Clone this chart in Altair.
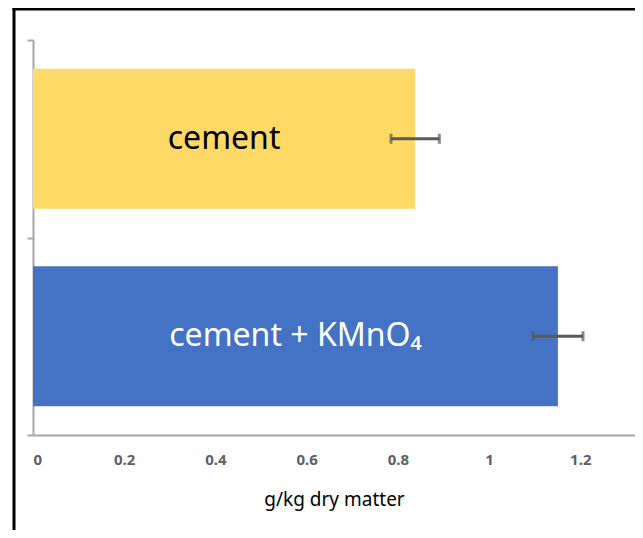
import altair as alt
import pandas as pd

categories = ["cement", "cement + KMnO₄"]
values = [0.838, 1.151]
errors = [0.053, 0.055]
bar_colors = ["#FFD966", "#4472C4"]
text_colors = ["#000000", "#FFFFFF"]
tick_values = [0, 0.2, 0.4, 0.6, 0.8, 1, 1.2]

df = pd.DataFrame({
    "cat": categories,
    "val": values,
    "err": errors,
    "barc": bar_colors,
    "txtc": text_colors,
})

base = alt.Chart(df).transform_calculate(
    lo="datum.val - datum.err",
    hi="datum.val + datum.err",
    mid="datum.val / 2",
)

yenc = alt.Y(
    "cat:N",
    sort=categories,
    scale=alt.Scale(paddingInner=0, paddingOuter=0),
    axis=alt.Axis(
        title=None, labels=False, tickBand="extent", domainColor="#A6A6A6",
        domainWidth=2, tickColor="#A6A6A6", tickWidth=2, tickSize=6, grid=False,
    ),
)
xscale = alt.Scale(domain=[0, 1.32], nice=False, zero=True)

bars = base.mark_bar(height={"band": 0.71}).encode(
    x=alt.X(
        "val:Q",
        scale=xscale,
        axis=alt.Axis(
            values=tick_values, format="~g", ticks=False, grid=False,
            domainColor="#A6A6A6", domainWidth=2,
            labelFont="Noto Sans", labelFontSize=15, labelFontWeight="bold",
            labelColor="#606060", labelPadding=17,
            title="g/kg dry matter", titleFont="Noto Sans", titleFontSize=19,
            titleFontWeight="normal", titleColor="#000000", titlePadding=23,
        ),
    ),
    y=yenc,
    color=alt.Color("barc:N", scale=None),
)

rules = base.mark_rule(color="#595959", strokeWidth=3).encode(
    x="lo:Q", x2="hi:Q", y=alt.Y("cat:N", sort=categories)
)
caps_lo = base.mark_tick(color="#595959", thickness=3, size=10, orient="vertical").encode(
    x="lo:Q", y=alt.Y("cat:N", sort=categories)
)
caps_hi = base.mark_tick(color="#595959", thickness=3, size=10, orient="vertical").encode(
    x="hi:Q", y=alt.Y("cat:N", sort=categories)
)

labels = base.mark_text(font="Noto Sans", fontSize=32, align="center", baseline="middle").encode(
    x="mid:Q",
    y=alt.Y("cat:N", sort=categories),
    text="cat:N",
    color=alt.Color("txtc:N", scale=None),
)

frame_df = pd.DataFrame({"f": [0]})
frame_left = alt.Chart(frame_df).mark_rule(color="#000000", strokeWidth=3).encode(
    x=alt.value(-19), y=alt.value(-32), y2=alt.value(800)
)
frame_top = alt.Chart(frame_df).mark_rule(color="#000000", strokeWidth=3).encode(
    x=alt.value(-20.5), x2=alt.value(800), y=alt.value(-31)
)

chart = alt.layer(frame_left, frame_top, bars, rules, caps_lo, caps_hi, labels).properties(
    width=602,
    height=395,
    background="white",
    autosize=alt.AutoSizeParams(type="none"),
    padding={"left": 25, "top": 32, "right": 0, "bottom": 95},
).configure_view(strokeWidth=0, stroke=None)

chart.save("out.html", embed_options={"renderer": "svg", "actions": False})
